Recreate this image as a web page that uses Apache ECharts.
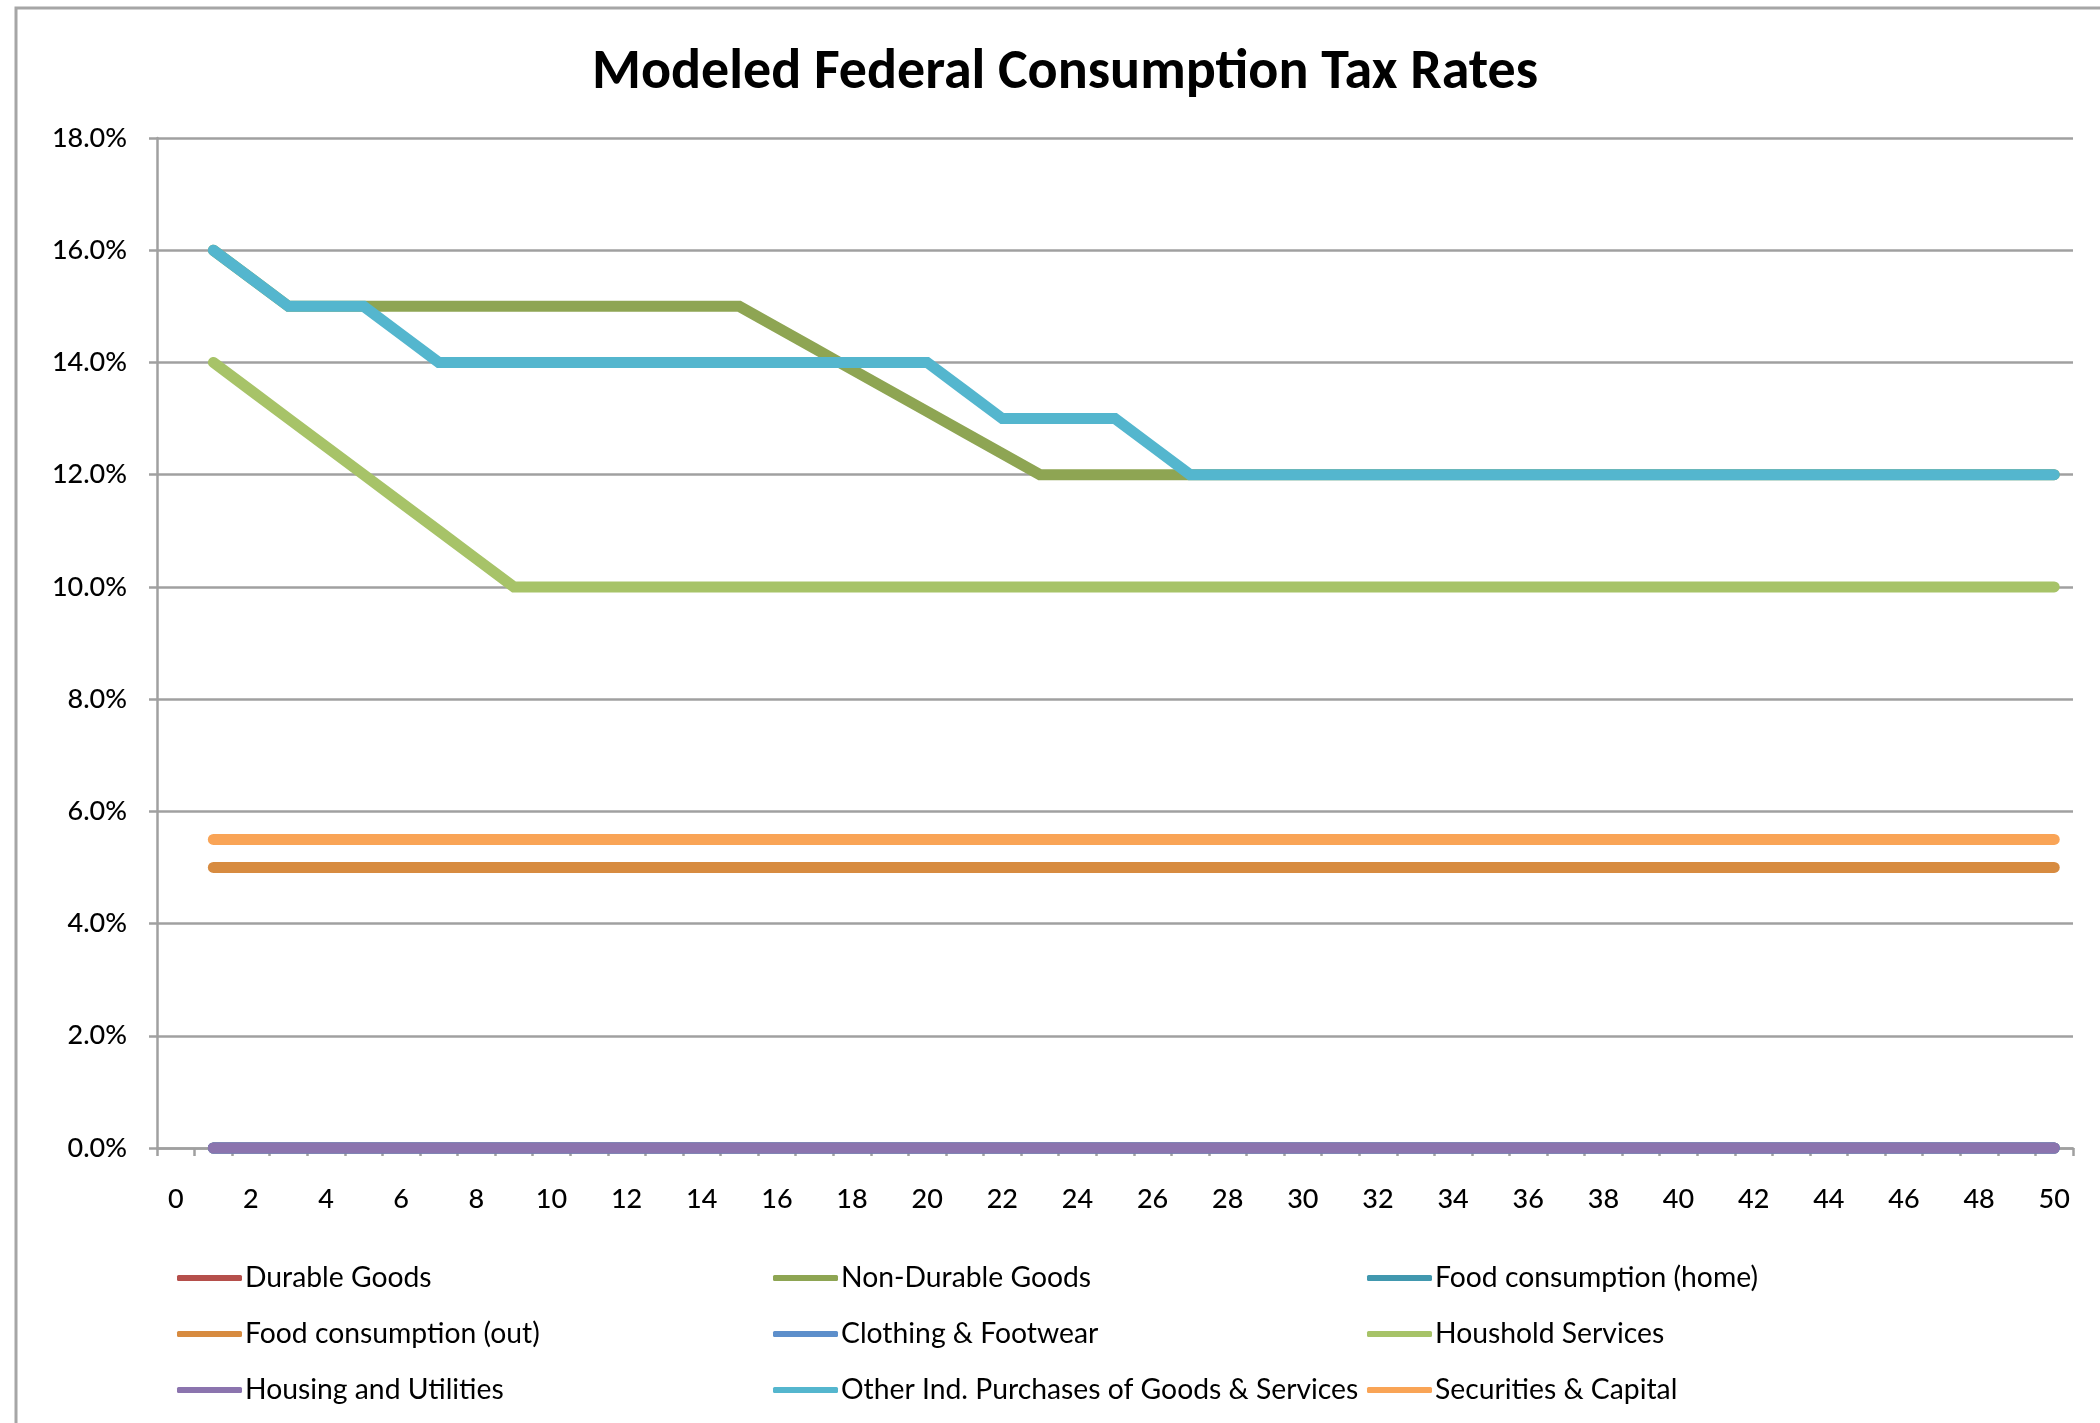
<!DOCTYPE html>
<html><head><meta charset="utf-8">
<script src="https://cdn.jsdelivr.net/npm/echarts@6/dist/echarts.min.js"></script>
<style>html,body{margin:0;padding:0;background:#fff;overflow:hidden}#chart{width:2100px;height:1423px}</style>
</head><body><div id="chart"></div>
<script>
const titleText = "Modeled Federal Consumption Tax Rates";
const categories = ["0","1","2","3","4","5","6","7","8","9","10","11","12","13","14","15","16","17","18","19","20","21","22","23","24","25","26","27","28","29","30","31","32","33","34","35","36","37","38","39","40","41","42","43","44","45","46","47","48","49","50"];

const seriesNames = ["Durable Goods","Non-Durable Goods","Food consumption (home)","Food consumption (out)","Clothing & Footwear","Houshold Services","Housing and Utilities","Other Ind. Purchases of Goods & Services","Securities & Capital"];

const durableGoods = [null,0,0,0,0,0,0,0,0,0,0,0,0,0,0,0,0,0,0,0,0,0,0,0,0,0,0,0,0,0,0,0,0,0,0,0,0,0,0,0,0,0,0,0,0,0,0,0,0,0,0];
const nonDurableGoods = [null,16,15.5,15,15,15,15,15,15,15,15,15,15,15,15,15,14.625,14.25,13.875,13.5,13.125,12.75,12.375,12,12,12,12,12,12,12,12,12,12,12,12,12,12,12,12,12,12,12,12,12,12,12,12,12,12,12,12];
const foodHome = [null,0,0,0,0,0,0,0,0,0,0,0,0,0,0,0,0,0,0,0,0,0,0,0,0,0,0,0,0,0,0,0,0,0,0,0,0,0,0,0,0,0,0,0,0,0,0,0,0,0,0];
const foodOut = [null,5,5,5,5,5,5,5,5,5,5,5,5,5,5,5,5,5,5,5,5,5,5,5,5,5,5,5,5,5,5,5,5,5,5,5,5,5,5,5,5,5,5,5,5,5,5,5,5,5,5];
const clothing = [null,0,0,0,0,0,0,0,0,0,0,0,0,0,0,0,0,0,0,0,0,0,0,0,0,0,0,0,0,0,0,0,0,0,0,0,0,0,0,0,0,0,0,0,0,0,0,0,0,0,0];
const housholdServices = [null,14,13.5,13,12.5,12,11.5,11,10.5,10,10,10,10,10,10,10,10,10,10,10,10,10,10,10,10,10,10,10,10,10,10,10,10,10,10,10,10,10,10,10,10,10,10,10,10,10,10,10,10,10,10];
const housingUtilities = [null,0,0,0,0,0,0,0,0,0,0,0,0,0,0,0,0,0,0,0,0,0,0,0,0,0,0,0,0,0,0,0,0,0,0,0,0,0,0,0,0,0,0,0,0,0,0,0,0,0,0];
const otherInd = [null,16,15.5,15,15,15,14.5,14,14,14,14,14,14,14,14,14,14,14,14,14,14,13.5,13,13,13,13,12.5,12,12,12,12,12,12,12,12,12,12,12,12,12,12,12,12,12,12,12,12,12,12,12,12];
const securitiesCapital = [null,5.5,5.5,5.5,5.5,5.5,5.5,5.5,5.5,5.5,5.5,5.5,5.5,5.5,5.5,5.5,5.5,5.5,5.5,5.5,5.5,5.5,5.5,5.5,5.5,5.5,5.5,5.5,5.5,5.5,5.5,5.5,5.5,5.5,5.5,5.5,5.5,5.5,5.5,5.5,5.5,5.5,5.5,5.5,5.5,5.5,5.5,5.5,5.5,5.5,5.5];

const seriesData = [durableGoods, nonDurableGoods, foodHome, foodOut, clothing, housholdServices, housingUtilities, otherInd, securitiesCapital];
const seriesColors = ["#B54F4B","#8EA553","#4198AF","#D78B40","#5D8FCB","#A7C368","#8B74AE","#54B6CE","#F9A456"];

const yMin = 0, yMax = 18, yStep = 2;

const textFont = "Lato, 'Open Sans', sans-serif";
const gridColor = "#a0a0a0";

// legend layout: 3 columns x 3 rows, row-major order
const legendCols = [177, 773, 1367];
const legendRows = [1278, 1334, 1390];

const chart = echarts.init(document.getElementById('chart'));

const legends = seriesNames.map((name, i) => ({
  data: [name],
  left: legendCols[i % 3],
  top: legendRows[Math.floor(i / 3)] - 15,
  padding: 0,
  icon: 'roundRect',
  itemWidth: 65,
  itemHeight: 6,
  selectedMode: false,
  textStyle: { fontFamily: textFont, fontSize: 28.3, color: '#000', lineHeight: 30, padding: [0,0,0,-2] }
}));

const option = {
  animation: false,
  backgroundColor: '#fff',
  title: {
    text: titleText,
    left: 1060,
    top: 41,
    textAlign: 'center',
    textStyle: { fontFamily: "Carlito, Lato, 'Open Sans', sans-serif", fontWeight: 'bold', fontSize: 56, color: '#000' }
  },
  graphic: [{
    type: 'rect',
    shape: { x: 16, y: 8, width: 2200, height: 1500 },
    style: { fill: 'none', stroke: '#a6a6a6', lineWidth: 3 },
    silent: true, z: -10
  }],
  legend: legends,
  grid: { left: 157, right: 27, top: 138, bottom: 275, containLabel: false },
  xAxis: {
    type: 'category',
    data: categories,
    boundaryGap: true,
    axisLine: { show: true, lineStyle: { color: gridColor, width: 2.5 } },
    axisTick: { show: true, interval: 0, length: 8, lineStyle: { color: gridColor, width: 2.5 } },
    axisLabel: { interval: 1, margin: 38, color: '#000', fontFamily: textFont, fontSize: 27, fontWeight: 500 },
    splitLine: { show: false }
  },
  yAxis: {
    type: 'value',
    min: yMin, max: yMax, interval: yStep,
    axisLine: { show: true, lineStyle: { color: gridColor, width: 2.5 } },
    axisTick: { show: true, length: 8, lineStyle: { color: gridColor, width: 2.5 } },
    axisLabel: { margin: 30, color: '#000', fontFamily: textFont, fontSize: 27, fontWeight: 500, formatter: v => v.toFixed(1) + '%' },
    splitLine: { show: true, lineStyle: { color: gridColor, width: 2.5 } }
  },
  series: seriesNames.map((name, i) => ({
    name: name,
    type: 'line',
    data: seriesData[i],
    symbol: 'none',
    showSymbol: false,
    clip: false,
    color: seriesColors[i],
    itemStyle: { color: seriesColors[i] },
    lineStyle: { color: seriesColors[i], width: 11, cap: 'round', join: 'miter' },
    emphasis: { disabled: true }
  }))
};
chart.setOption(option);
</script>
</body></html>
